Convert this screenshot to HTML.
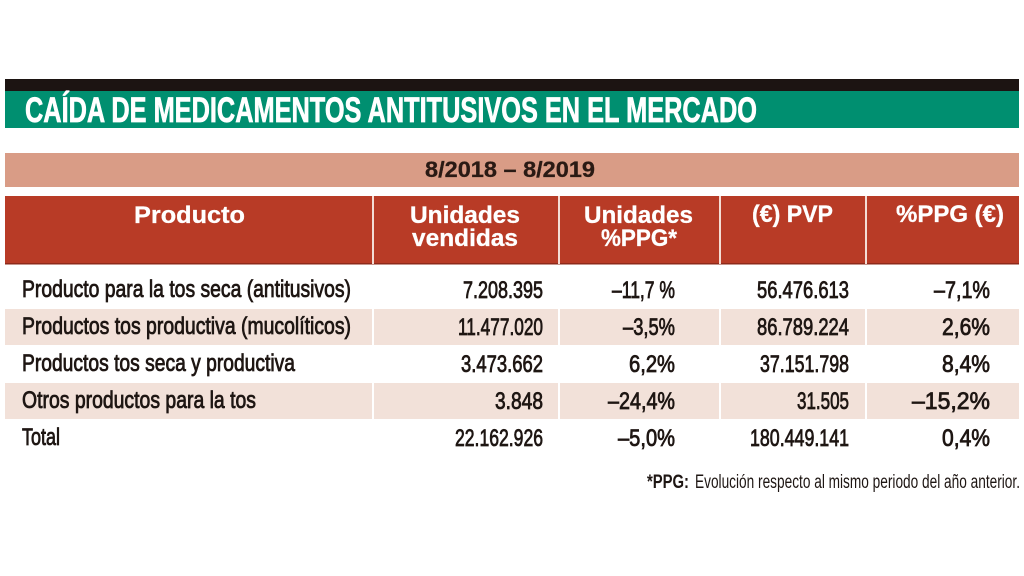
<!DOCTYPE html>
<html>
<head>
<meta charset="utf-8">
<style>
html,body{margin:0;padding:0;background:#fff;}
svg{display:block;}
.t{font-family:"Liberation Sans",sans-serif;}
.b{font-weight:bold;}
.body{font-family:"Liberation Sans",sans-serif;font-size:24px;fill:#1e1613;stroke:#1e1613;stroke-width:0.8;}
.hd{font-family:"Liberation Sans",sans-serif;font-weight:bold;font-size:24px;fill:#fff;stroke:#fff;stroke-width:0.3;}
</style>
</head>
<body>
<svg width="1024" height="576" viewBox="0 0 1024 576" xmlns="http://www.w3.org/2000/svg">
  <rect x="0" y="0" width="1024" height="576" fill="#ffffff"/>
  <!-- title bars -->
  <rect x="5" y="79" width="1014" height="12" fill="#1c1412"/>
  <rect x="5" y="91" width="1014" height="37" fill="#008f70"/>
  <text class="t b" x="25" y="122" font-size="35" fill="#ffffff" stroke="#ffffff" stroke-width="0.7" textLength="732" lengthAdjust="spacingAndGlyphs">CAÍDA DE MEDICAMENTOS ANTITUSIVOS EN EL MERCADO</text>

  <!-- date band -->
  <rect x="5" y="153" width="1014" height="34" fill="#d99c86"/>
  <text class="t b" x="425" y="177" font-size="22" fill="#2a1a14" stroke="#2a1a14" stroke-width="0.3" textLength="170" lengthAdjust="spacingAndGlyphs">8/2018 – 8/2019</text>

  <!-- header -->
  <rect x="5" y="196" width="1014" height="68" fill="#b83b26"/>
  <rect x="5" y="263" width="1014" height="1.5" fill="#8e2a1a"/>
  <rect x="372" y="196" width="2" height="68" fill="#f4ddd5"/>
  <rect x="558" y="196" width="2" height="68" fill="#f4ddd5"/>
  <rect x="719" y="196" width="2" height="68" fill="#f4ddd5"/>
  <rect x="865" y="196" width="2" height="68" fill="#f4ddd5"/>

  <text class="hd" x="134" y="223" textLength="111" lengthAdjust="spacingAndGlyphs">Producto</text>
  <text class="hd" x="410" y="223" textLength="110" lengthAdjust="spacingAndGlyphs">Unidades</text>
  <text class="hd" x="412" y="246" textLength="106" lengthAdjust="spacingAndGlyphs">vendidas</text>
  <text class="hd" x="584" y="223" textLength="109" lengthAdjust="spacingAndGlyphs">Unidades</text>
  <text class="hd" x="601" y="246" textLength="76" lengthAdjust="spacingAndGlyphs">%PPG*</text>
  <text class="hd" x="752" y="222" textLength="81" lengthAdjust="spacingAndGlyphs">(€) PVP</text>
  <text class="hd" x="896" y="222" textLength="108" lengthAdjust="spacingAndGlyphs">%PPG (€)</text>

  <!-- shaded rows -->
  <rect x="5" y="309" width="1014" height="36" fill="#f2e1d9"/>
  <rect x="5" y="383" width="1014" height="36" fill="#f2e1d9"/>
  <rect x="372" y="309" width="2" height="36" fill="#fff"/>
  <rect x="558" y="309" width="2" height="36" fill="#fff"/>
  <rect x="719" y="309" width="2" height="36" fill="#fff"/>
  <rect x="865" y="309" width="2" height="36" fill="#fff"/>
  <rect x="372" y="383" width="2" height="36" fill="#fff"/>
  <rect x="558" y="383" width="2" height="36" fill="#fff"/>
  <rect x="719" y="383" width="2" height="36" fill="#fff"/>
  <rect x="865" y="383" width="2" height="36" fill="#fff"/>

  <!-- row 1 -->
  <text class="body" x="22" y="297" textLength="329" lengthAdjust="spacingAndGlyphs">Producto para la tos seca (antitusivos)</text>
  <text class="body" x="463" y="298" textLength="80" lengthAdjust="spacingAndGlyphs">7.208.395</text>
  <text class="body" x="612" y="298" textLength="63" lengthAdjust="spacingAndGlyphs">–11,7 %</text>
  <text class="body" x="757" y="298" textLength="92" lengthAdjust="spacingAndGlyphs">56.476.613</text>
  <text class="body" x="934" y="298" textLength="56" lengthAdjust="spacingAndGlyphs">–7,1%</text>

  <!-- row 2 -->
  <text class="body" x="22" y="334" textLength="329" lengthAdjust="spacingAndGlyphs">Productos tos productiva (mucolíticos)</text>
  <text class="body" x="458" y="335" textLength="85" lengthAdjust="spacingAndGlyphs">11.477.020</text>
  <text class="body" x="623" y="335" textLength="52" lengthAdjust="spacingAndGlyphs">–3,5%</text>
  <text class="body" x="757" y="335" textLength="92" lengthAdjust="spacingAndGlyphs">86.789.224</text>
  <text class="body" x="942" y="335" textLength="48" lengthAdjust="spacingAndGlyphs">2,6%</text>

  <!-- row 3 -->
  <text class="body" x="22" y="371" textLength="273" lengthAdjust="spacingAndGlyphs">Productos tos seca y productiva</text>
  <text class="body" x="461" y="372" textLength="82" lengthAdjust="spacingAndGlyphs">3.473.662</text>
  <text class="body" x="629" y="372" textLength="46" lengthAdjust="spacingAndGlyphs">6,2%</text>
  <text class="body" x="760" y="372" textLength="89" lengthAdjust="spacingAndGlyphs">37.151.798</text>
  <text class="body" x="942" y="372" textLength="48" lengthAdjust="spacingAndGlyphs">8,4%</text>

  <!-- row 4 -->
  <text class="body" x="22" y="408" textLength="234" lengthAdjust="spacingAndGlyphs">Otros productos para la tos</text>
  <text class="body" x="495" y="409" textLength="48" lengthAdjust="spacingAndGlyphs">3.848</text>
  <text class="body" x="608" y="409" textLength="67" lengthAdjust="spacingAndGlyphs">–24,4%</text>
  <text class="body" x="797" y="409" textLength="52" lengthAdjust="spacingAndGlyphs">31.505</text>
  <text class="body" x="912" y="409" textLength="78" lengthAdjust="spacingAndGlyphs">–15,2%</text>

  <!-- row 5 -->
  <text class="body" x="22" y="445" textLength="38" lengthAdjust="spacingAndGlyphs">Total</text>
  <text class="body" x="455" y="446" textLength="88" lengthAdjust="spacingAndGlyphs">22.162.926</text>
  <text class="body" x="618" y="446" textLength="57" lengthAdjust="spacingAndGlyphs">–5,0%</text>
  <text class="body" x="750" y="446" textLength="99" lengthAdjust="spacingAndGlyphs">180.449.141</text>
  <text class="body" x="942" y="446" textLength="48" lengthAdjust="spacingAndGlyphs">0,4%</text>

  <!-- footnote -->
  <text class="t b" x="647" y="488" font-size="19" fill="#1e1613" textLength="42" lengthAdjust="spacingAndGlyphs">*PPG:</text>
  <text class="t" x="695" y="488" font-size="19" fill="#1e1613" textLength="325" lengthAdjust="spacingAndGlyphs">Evolución respecto al mismo periodo del año anterior.</text>
</svg>
</body>
</html>
